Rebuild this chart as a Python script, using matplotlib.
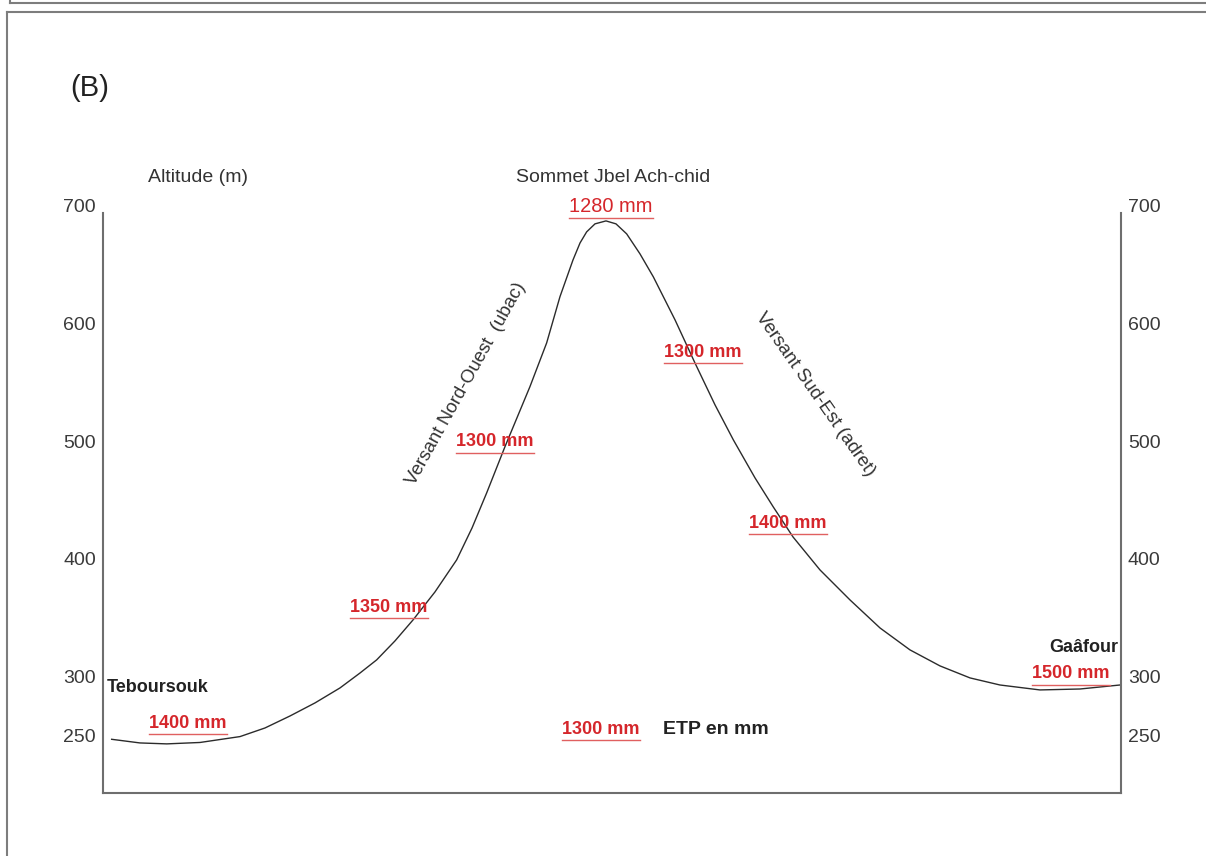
import matplotlib
matplotlib.use("Agg")
import matplotlib.pyplot as plt
from matplotlib.lines import Line2D

plt.rcParams['font.family'] = ['Liberation Sans', 'DejaVu Sans']

distance = [0.85, 3.63, 6.26, 9.53, 13.46, 15.91, 18.37, 20.83, 23.28, 25.25, 26.88,
            28.68, 30.45, 32.61, 34.74, 36.25, 37.69, 39.49, 41.94, 43.58, 44.89,
            46.17, 46.86, 47.51, 48.33, 49.41, 50.39, 51.44, 52.75, 54.06, 56.19,
            58.15, 60.12, 61.92, 64.05, 65.84, 67.78, 70.43, 73.38, 76.33, 79.27,
            82.22, 85.17, 88.11, 92.04, 95.97, 99.90]
altitude = [246.9, 243.8, 243.0, 244.2, 249.2, 256.5, 266.7, 277.8, 290.5, 303.2, 314.3,
            330.4, 348.2, 372.0, 399.2, 426.3, 456.1, 495.4, 546.3, 583.4, 622.7,
            653.9, 668.3, 677.7, 684.5, 687.0, 684.5, 676.0, 659.0, 639.5, 603.0,
            566.4, 530.8, 501.1, 468.8, 444.2, 418.7, 390.7, 365.2, 341.4, 322.8,
            309.2, 299.0, 293.0, 288.8, 289.6, 293.0]
yticks = [250, 300, 400, 500, 600, 700]

# ETP labels: (text, x pixel centre, y pixel centre, bold)
etp_labels = [
    ("1280 mm", 611, 206, False),
    ("1300 mm", 703, 352, True),
    ("1300 mm", 495, 442, True),
    ("1400 mm", 788, 523, True),
    ("1350 mm", 389, 607, True),
    ("1400 mm", 188, 723, True),
    ("1300 mm", 601, 729, True),
    ("1500 mm", 1071, 674, True),
]

W, H = 1206, 856
fig = plt.figure(figsize=(W / 100, H / 100), dpi=100)
fig.patch.set_facecolor('white')

def fx(px):
    return px / W

def fy(py):
    return 1 - py / H

# outer frame lines
frame_col = '#7d7d7d'
fig.add_artist(Line2D([fx(10), fx(10)], [fy(0), fy(3)], color=frame_col, lw=1.5, transform=fig.transFigure))
fig.add_artist(Line2D([fx(10), 1], [fy(3), fy(3)], color=frame_col, lw=1.5, transform=fig.transFigure))
fig.add_artist(Line2D([fx(7), 1], [fy(11.5), fy(11.5)], color=frame_col, lw=1.5, transform=fig.transFigure))
fig.add_artist(Line2D([fx(7), fx(7)], [fy(11.5), 0], color=frame_col, lw=1.5, transform=fig.transFigure))

ax = fig.add_axes([103 / W, 1 - 793 / H, 1018 / W, (793 - 205.6) / H])
ax.set_facecolor('none')
ax.set_xlim(0, 100)
ax.set_ylim(201.3, 700)

ax.plot(distance, altitude, color='#2b2b2b', lw=1.0, solid_joinstyle='round')

ax.spines['top'].set_visible(False)
for s in ['left', 'right', 'bottom']:
    ax.spines[s].set_color('#6e6e6e')
    ax.spines[s].set_linewidth(1.5)
ax.spines['left'].set_bounds(201.3, 694)
ax.spines['right'].set_bounds(201.3, 694)

ax.set_xticks([])
ax.set_yticks(yticks)
ax.set_yticklabels([str(v) for v in yticks])
ax.tick_params(axis='y', length=0, pad=5, labelsize=14, labelcolor='#3a3a3a',
               left=False, right=False, labelleft=True, labelright=True)

# texts
fig.text(fx(90), fy(88), "(B)", fontsize=21, color='#222222', ha='center', va='center')
fig.text(fx(198), fy(177), "Altitude (m)", fontsize=14, color='#333333', ha='center', va='center')
fig.text(fx(613), fy(177), "Sommet Jbel Ach-chid", fontsize=14, color='#333333', ha='center', va='center')
fig.text(fx(466), fy(384), "Versant Nord-Ouest  (ubac)", fontsize=13.5, color='#333333',
         ha='center', va='center', rotation=61, rotation_mode='anchor')
fig.text(fx(815), fy(394), "Versant Sud-Est (adret)", fontsize=13.5, color='#333333',
         ha='center', va='center', rotation=-55, rotation_mode='anchor')
fig.text(fx(107), fy(687), "Teboursouk", fontsize=13, fontweight='bold', color='#222222',
         ha='left', va='center')
fig.text(fx(1118), fy(648), "Gaâfour", fontsize=13, fontweight='bold', color='#222222',
         ha='right', va='center')
fig.text(fx(663), fy(729), "ETP en mm", fontsize=14, fontweight='bold', color='#222222',
         ha='left', va='center')

red = '#d5262b'
red_texts = []
for txt, px, py, bold in etp_labels:
    t = fig.text(fx(px), fy(py), txt, fontsize=13 if bold else 14.4,
                 fontweight='bold' if bold else 'normal', color=red,
                 ha='center', va='center')
    red_texts.append(t)

# underline the red labels
fig.canvas.draw()
renderer = fig.canvas.get_renderer()
for t in red_texts:
    bb = t.get_window_extent(renderer)
    y0 = bb.y0 - 2
    fig.add_artist(Line2D([bb.x0 / W, bb.x1 / W], [y0 / H, y0 / H], color='#e06060',
                          lw=1.0, transform=fig.transFigure))

fig.savefig("out.png", dpi=100, facecolor='white')
